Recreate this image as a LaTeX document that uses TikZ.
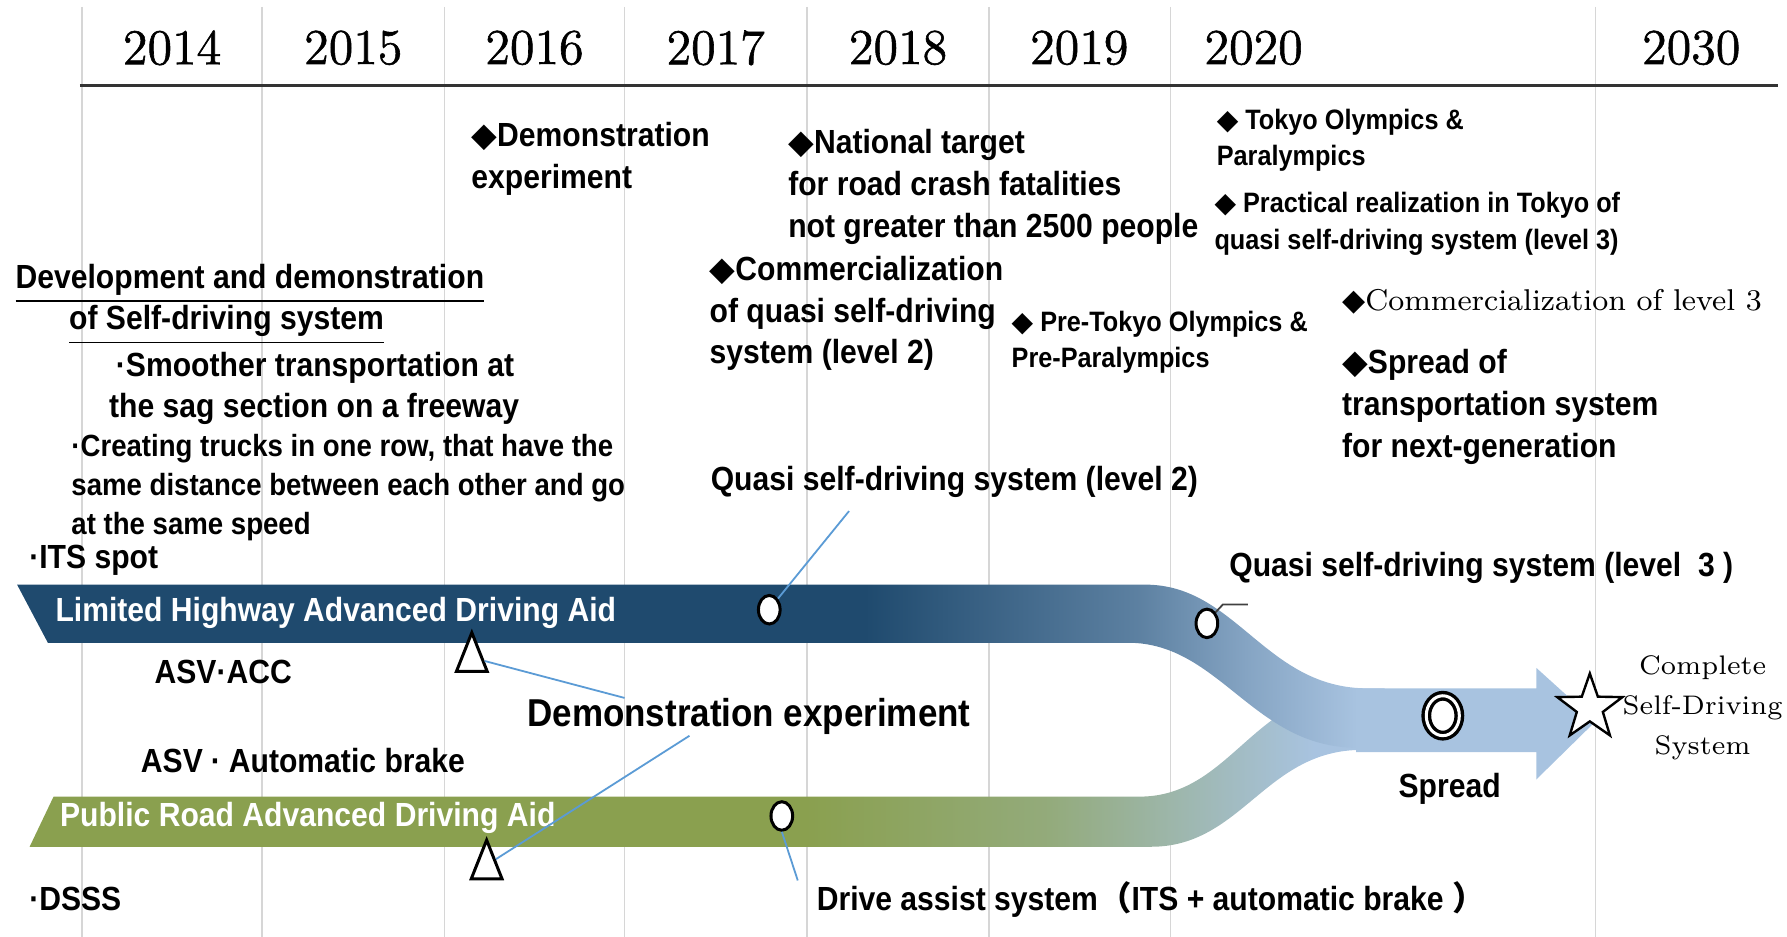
\documentclass[tikz,border=0pt]{standalone}
\usepackage{fontspec}
\newfontfamily\labfont[FakeStretch=0.9]{Liberation Sans}
\newfontfamily\symfont{DejaVu Sans}
\newfontfamily\jpfont{Noto Sans CJK JP}
\newfontfamily\yearfont[FakeBold=1.2]{Latin Modern Roman}
\usetikzlibrary{shapes.geometric,calc}

\definecolor{hwyblue}{HTML}{1F4A6E}
\definecolor{roadgreen}{HTML}{8AA04F}
\definecolor{arrowblue}{HTML}{A8C3E0}
\definecolor{pointblue}{HTML}{5B9BD5}
\definecolor{gridgray}{HTML}{D6D6D6}

% fades from the road colour into the arrow colour
\pgfdeclarehorizontalshading{hwyfade}{100bp}{color(0bp)=(hwyblue); color(56bp)=(hwyblue); color(66bp)=(hwyblue!55!arrowblue); color(70bp)=(hwyblue!25!arrowblue); color(74bp)=(arrowblue); color(100bp)=(arrowblue)}
\pgfdeclarehorizontalshading{roadfade}{100bp}{color(0bp)=(roadgreen); color(54bp)=(roadgreen); color(63bp)=(roadgreen!70!arrowblue); color(68bp)=(roadgreen!35!arrowblue); color(73bp)=(arrowblue); color(100bp)=(arrowblue)}

\newcommand{\bdia}{{\symfont ◆}}
\newcommand{\jp}[1]{{\jpfont #1}}

\tikzstyle{yearline} = [draw=gridgray, line width=0.45pt]
\tikzstyle{year} = [inner sep=0pt, font=\yearfont\fontsize{12.5}{15}\selectfont]
\tikzstyle{lab} = [inner sep=0pt, align=left, font=\labfont\bfseries\fontsize{8.35}{10.4}\selectfont]
\tikzstyle{smalllab} = [lab, font=\labfont\bfseries\fontsize{7}{9.1}\selectfont]
\tikzstyle{trucklab} = [lab, font=\labfont\bfseries\fontsize{7.65}{9.8}\selectfont]
\tikzstyle{biglab} = [lab, font=\labfont\bfseries\fontsize{9.7}{11.6}\selectfont]
\tikzstyle{bandtext} = [lab, text=white, anchor=west]
\tikzstyle{serif} = [inner sep=0pt, align=center, font=\fontsize{6.7}{9.9}\selectfont]
\tikzstyle{ring} = [ellipse, draw, fill=white, line width=0.75pt, minimum width=0.19cm, minimum height=0.25cm, inner sep=0pt]
\tikzstyle{bullseye} = [ellipse, draw, fill=white, line width=0.85pt, double=white, double distance=0.75pt, minimum width=0.29cm, minimum height=0.35cm, inner sep=0pt]
\tikzstyle{goalstar} = [star, star points=5, star point ratio=2.5, draw, fill=white, line width=0.6pt, minimum size=0.6cm, inner sep=0pt]
\tikzstyle{demotri} = [isosceles triangle, isosceles triangle stretches, shape border rotate=90, draw, fill=white, line width=0.75pt, minimum width=0.27cm, minimum height=0.34cm, inner sep=0pt]
\tikzstyle{pointer} = [draw=pointblue, line width=0.45pt]
\tikzstyle{leader} = [draw=black!75, line width=0.45pt]

\begin{document}
\begin{tikzpicture}[x=0.01cm,y=-0.01cm]
	\useasboundingbox (0,0) rectangle (1568,822);

	% year columns and header
	\foreach \gx in {72,230,390,548,708,868,1027,1400}
		\draw[yearline] (\gx,6) -- (\gx,822);
	\foreach \yr/\yx in {2014/151,2015/310,2016/469,2017/628,2018/788,2019/947,2020/1100,2030/1484}
		\node[year] (y\yr) at (\yx,42) {\yr};
	\draw[line width=0.8pt, black!80] (70,75) -- (1560,75);

	% the two roads running into one arrow
	\shade[shading=roadfade] (47,699) -- (1000,699) .. controls (1080,699) and (1100,606) .. (1190,606) -- (1200,606) -- (1200,658) -- (1195,658) .. controls (1110,658) and (1090,743) .. (1010,743) -- (26,743) -- cycle;
	\fill[arrowblue] (1190,604) -- (1348,604) -- (1348,586) -- (1400,633) -- (1348,684) -- (1348,660) -- (1190,660) -- cycle;
	\shade[shading=hwyfade] (15,513) -- (1005,513) .. controls (1085,513) and (1110,604) .. (1200,604) -- (1215,604) -- (1215,656) -- (1190,656) .. controls (1100,656) and (1070,564) .. (990,564) -- (42,564) -- cycle;
	\node[bandtext] (hwy) at (48,538) {Limited Highway Advanced Driving Aid};
	\node[bandtext] (road) at (52,718) {Public Road Advanced Driving Aid};

	% milestones
	\node[lab, anchor=north west] (demotop) at (413,107) {\bdia Demonstration\\experiment};
	\node[lab, anchor=north west] (target) at (691,113) {\bdia National target\\for road crash fatalities\\not greater than 2500 people};
	\node[smalllab, anchor=north west] (olym) at (1067,95) {\bdia\ Tokyo Olympics \&\\Paralympics};
	\node[smalllab, anchor=north west] (tokyo) at (1065,168) {\bdia\ Practical realization in Tokyo of\\quasi self-driving system (level 3)};
	\node[lab, anchor=north west] (comm2) at (622,224) {\bdia Commercialization\\of quasi self-driving\\system (level 2)};
	\node[smalllab, anchor=north west] (pretokyo) at (887,272) {\bdia\ Pre-Tokyo Olympics \&\\Pre-Paralympics};
	\node[anchor=west, inner sep=0pt, font=\fontsize{7.5}{10}\selectfont] (comm3) at (1177,265) {\bdia Commercialization of level 3};
	\node[lab, anchor=north west] (nextgen) at (1177,306) {\bdia Spread of\\transportation system\\for next-generation};

	% what is being developed
	\node[lab, anchor=north west] (devel) at (13,231) {\underline{Development and demonstration}\\\hspace*{0.47cm}\underline{of Self-driving system}};
	\node[lab, anchor=north west] (sag) at (95,308) {\hspace*{0.06cm}·Smoother transportation at\\the sag section on a freeway};
	\node[trucklab, anchor=north west] (trucks) at (62,380) {·Creating trucks in one row, that have the\\same distance between each other and go\\at the same speed};
	\node[lab, anchor=west] (its) at (25,492) {·ITS spot};
	\node[lab, anchor=west] (acc) at (135,590) {ASV·ACC};
	\node[lab, anchor=west] (brake) at (123,667) {ASV\hspace{0.07cm}·\hspace{0.07cm}Automatic brake};
	\node[lab, anchor=west] (dsss) at (25,789) {·DSSS};

	% labels along the roads
	\node[lab, anchor=west] (q2) at (623,423) {Quasi self-driving system (level 2)};
	\node[lab, anchor=west] (q3) at (1078,498) {Quasi self-driving system (level\ \ 3\ )};
	\node[biglab, anchor=west] (demo) at (462,629) {Demonstration experiment};
	\node[lab, anchor=west] (drive) at (716,789) {Drive assist system\jp{（}ITS + automatic brake \jp{）}};
	\node[lab] (spread) at (1272,692) {Spread};
	\node[serif] (complete) at (1494,621) {Complete\\Self-Driving\\System};

	% pointers from the marks to their labels
	\node[demotri] (tri1) at (414,580) {};
	\node[demotri] (tri2) at (427,762) {};
	\node[ring] (q2mark) at (675,535) {};
	\node[ring] (drvmark) at (686,716) {};
	\node[ring] (q3mark) at (1059,547) {};
	\draw[pointer] (tri1.east) -- ($(demo.north west)+(86,0)$);
	\draw[pointer] (tri2.north east) -- ($(demo.south west)+(143,0)$);
	\draw[pointer] (q2mark.north east) -- ($(q2.south west)+(122,11)$);
	\draw[pointer] (drvmark.south) -- ($(drive.north west)+(-16,0)$);
	\draw[leader] (q3mark.north east) -- ($(q3.south west)+(-5,18)$) -- ($(q3.south west)+(17,18)$);
	\node[bullseye] (spreadmark) at (1266,628) {};
	\node[goalstar] (goal) at (1395,621) {};

\end{tikzpicture}
\end{document}
